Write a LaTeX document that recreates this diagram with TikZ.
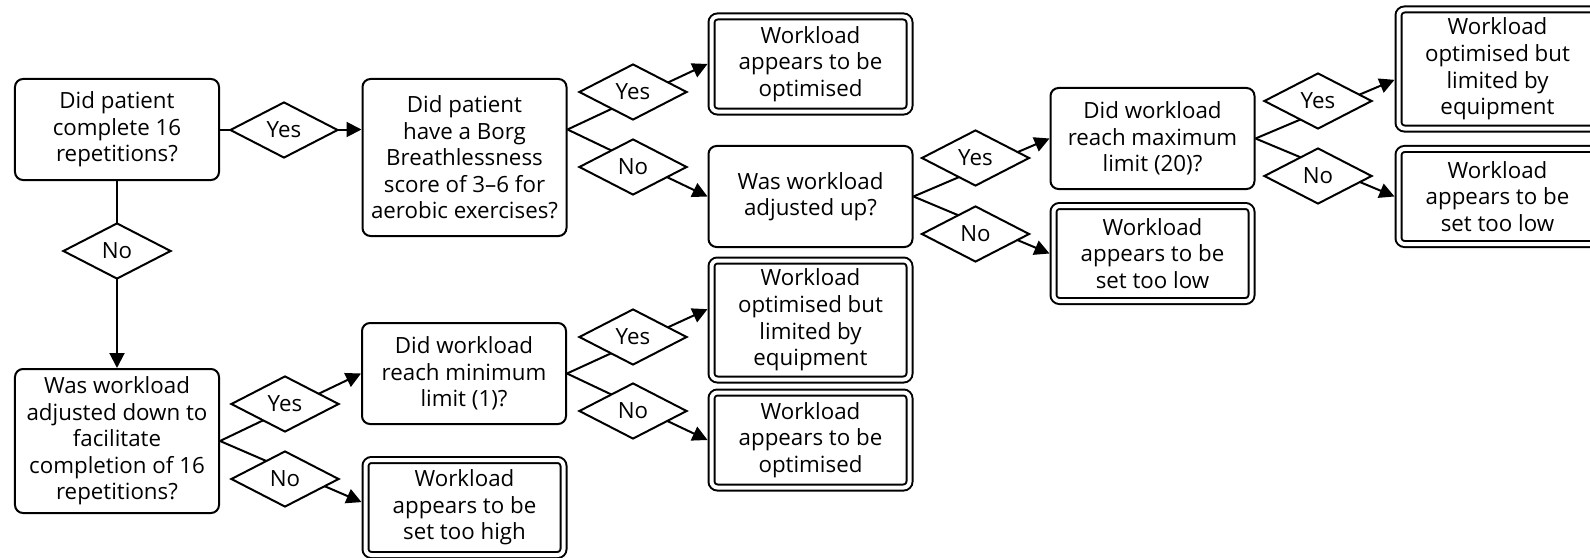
\documentclass[tikz,border=0pt]{standalone}
\usepackage{fontspec}
\setmainfont{Open Sans}
\usetikzlibrary{shapes.geometric,arrows.meta}

\begin{document}
\begin{tikzpicture}[x=0.2mm, y=-0.2mm, line width=0.4mm,
    box/.style={draw, rounded corners=1.6mm, align=center, inner sep=0pt,
      minimum width=40.8mm, minimum height=20.2mm,
      font=\fontsize{12.7pt}{15.1pt}\selectfont},
    endbox/.style={box, double, double distance=0.8mm, rounded corners=1.2mm,
      minimum width=39.6mm, minimum height=19mm, outer sep=0.8mm},
    choice/.style={draw, diamond, fill=white, aspect=2, inner sep=0pt,
      minimum width=21.6mm, minimum height=11.2mm,
      font=\fontsize{12.7pt}{15.1pt}\selectfont},
    arr/.style={-{Triangle[length=3mm,width=3mm]}}]
    \useasboundingbox (0,0) rectangle (1590,558);

    % Questions
    \node[box] (A) at (117,129.5) {Did patient\\complete 16\\repetitions?};
    \node[box, minimum height=31.4mm] (B) at (464.5,157.5)
      {Did patient\\have a Borg\\Breathlessness\\score of 3–6 for\\aerobic exercises?};
    \node[box] (C) at (810.5,196.5) {Was workload\\adjusted up?};
    \node[box] (D) at (1152.5,138.5) {Did workload\\reach maximum\\limit (20)?};
    \node[box, minimum height=28.8mm] (H) at (117,441)
      {Was workload\\adjusted down to\\facilitate\\completion of 16\\repetitions?};
    \node[box] (I) at (464,373.5) {Did workload\\reach minimum\\limit (1)?};

    % Outcomes
    \node[endbox] (O) at (810.5,64) {Workload\\appears to be\\optimised};
    \node[endbox] (E) at (1152.5,253.5) {Workload\\appears to be\\set too low};
    \node[endbox, minimum height=23.8mm] (F) at (1497.5,69)
      {Workload\\optimised but\\limited by\\equipment};
    \node[endbox] (G) at (1497.5,196.5) {Workload\\appears to be\\set too low};
    \node[endbox, minimum height=23.8mm] (K) at (810.5,320)
      {Workload\\optimised but\\limited by\\equipment};
    \node[endbox] (L) at (810.5,440) {Workload\\appears to be\\optimised};
    \node[endbox] (J) at (464.5,507.5) {Workload\\appears to be\\set too high};

    % Branch point of B
    \coordinate (bB) at (A.east -| B.east);

    % Connectors
    \draw[arr] (A.east) -- (A.east -| B.west);
    \draw[arr] (A.south) -- (H.north);
    \draw[arr] (bB) -- (O.west);
    \draw[arr] (bB) -- (C.west);
    \draw[arr] (C.east) -- (D.west);
    \draw[arr] (C.east) -- (E.west);
    \draw[arr] (D.east) -- (F.186);
    \draw[arr] (D.east) -- (G.west);
    \draw[arr] (H.east) -- (I.west);
    \draw[arr] (H.east) -- (J.177);
    \draw[arr] (I.east) -- (K.174);
    \draw[arr] (I.east) -- (L.west);

    % Yes/No labels
    \node[choice] (yA) at (284,130) {Yes};
    \node[choice] (nA) at (117,251) {No};
    \node[choice] (yB) at (633,92) {Yes};
    \node[choice] (nB) at (633,167) {No};
    \node[choice] (yC) at (975.5,158) {Yes};
    \node[choice] (nC) at (975.5,234) {No};
    \node[choice] (yD) at (1318,101) {Yes};
    \node[choice] (nD) at (1318,176) {No};
    \node[choice] (yH) at (285,404) {Yes};
    \node[choice] (nH) at (285,479) {No};
    \node[choice] (yI) at (633,337) {Yes};
    \node[choice] (nI) at (633,411) {No};
\end{tikzpicture}
\end{document}
